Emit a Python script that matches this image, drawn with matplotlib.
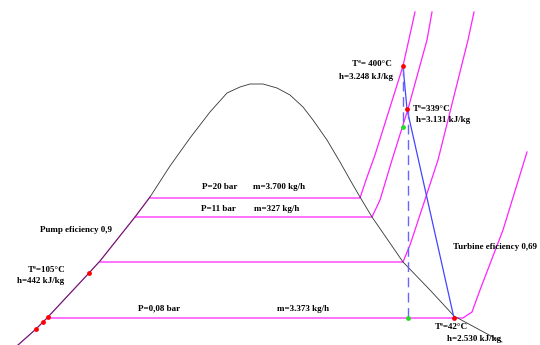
import matplotlib
matplotlib.use('Agg')
import matplotlib.pyplot as plt

# saturation dome (image units: x right, y down)
dome_x = [18, 36, 48, 89, 100, 135, 150, 170, 190, 210, 227, 240, 250, 263, 277, 290, 303, 313,
          327, 340, 353, 360, 372, 403, 430, 454, 502]
dome_y = [345, 329, 317, 273, 261, 217, 197, 166, 138, 112, 93, 87, 84, 84, 88, 95, 107, 120,
          140, 162, 185, 197, 217, 262, 290, 316, 342]

# pump / liquid line
pump_x = [18, 36, 48, 89, 100, 135, 150]
pump_y = [345, 329, 317, 273, 261, 217, 197]

# isobars
p20_x = [150, 360, 366, 375, 403, 415]
p20_y = [198, 198, 180, 155, 66, 12]
p11_x = [135, 372, 380, 392, 408, 427, 432]
p11_y = [217, 217, 200, 160, 109, 40, 12]
pmid_x = [100, 403, 410, 415, 438, 468, 474]
pmid_y = [262, 262, 245, 230, 160, 40, 12]
p008_x = [48, 463, 472, 480, 503, 527]
p008_y = [318, 318, 312, 290, 230, 152]

# turbine expansion (real) and isentropic
turb_x = [403, 407, 454]
turb_y = [66, 109, 318]
isen1_x = [403, 403]
isen1_y = [66, 127]
isen2_x = [408, 408]
isen2_y = [109, 318]

red_x = [403, 407, 454, 89, 36, 43, 48]
red_y = [66, 109, 318, 273, 329, 322, 317]
green_x = [403, 408]
green_y = [127, 318]

labels = [
    (352, 64, "Tª= 400°C"),
    (339, 77, "h=3.248 kJ/kg"),
    (413, 109, "Tª=339°C"),
    (416, 120, "h=3.131 kJ/kg"),
    (202, 187, "P=20 bar"),
    (253, 187, "m=3.700 kg/h"),
    (201, 209, "P=11 bar"),
    (254, 209, "m=327 kg/h"),
    (40, 230, "Pump eficiency 0,9"),
    (28, 270, "Tª=105°C"),
    (17, 281, "h=442 kJ/kg"),
    (138, 308, "P=0,08 bar"),
    (277, 309, "m=3.373 kg/h"),
    (453, 247, "Turbine eficiency 0,69"),
    (435, 327, "Tª=42°C"),
    (447, 339, "h=2.530 kJ/kg"),
]

fig = plt.figure(figsize=(5.4, 3.45), dpi=100)
ax = fig.add_axes([0, 0, 1, 1])
ax.set_xlim(0, 540)
ax.set_ylim(345, 0)
ax.axis('off')

mag = '#ff22ff'
ax.plot(pump_x, pump_y, color=mag, lw=0.9)
for xs, ys in [(p20_x, p20_y), (p11_x, p11_y), (pmid_x, pmid_y), (p008_x, p008_y)]:
    ax.plot(xs, ys, color=mag, lw=0.9)
ax.plot(dome_x, dome_y, color='#333333', lw=0.6)

ax.plot(turb_x, turb_y, color='#4444ff', lw=0.9)
for xs, ys in [(isen1_x, isen1_y), (isen2_x, isen2_y)]:
    ax.plot(xs, ys, color='#6666ff', lw=1.0, dashes=(7, 4))

ax.scatter(red_x, red_y, s=12, color='red', zorder=5, linewidths=0)
ax.scatter(green_x, green_y, s=12, color='#22dd22', zorder=5, linewidths=0)

for x, y, t in labels:
    ax.text(x, y, t, fontsize=6.5, fontweight='bold', family='Liberation Serif',
            ha='left', va='center')

fig.savefig('out.png', dpi=100)
